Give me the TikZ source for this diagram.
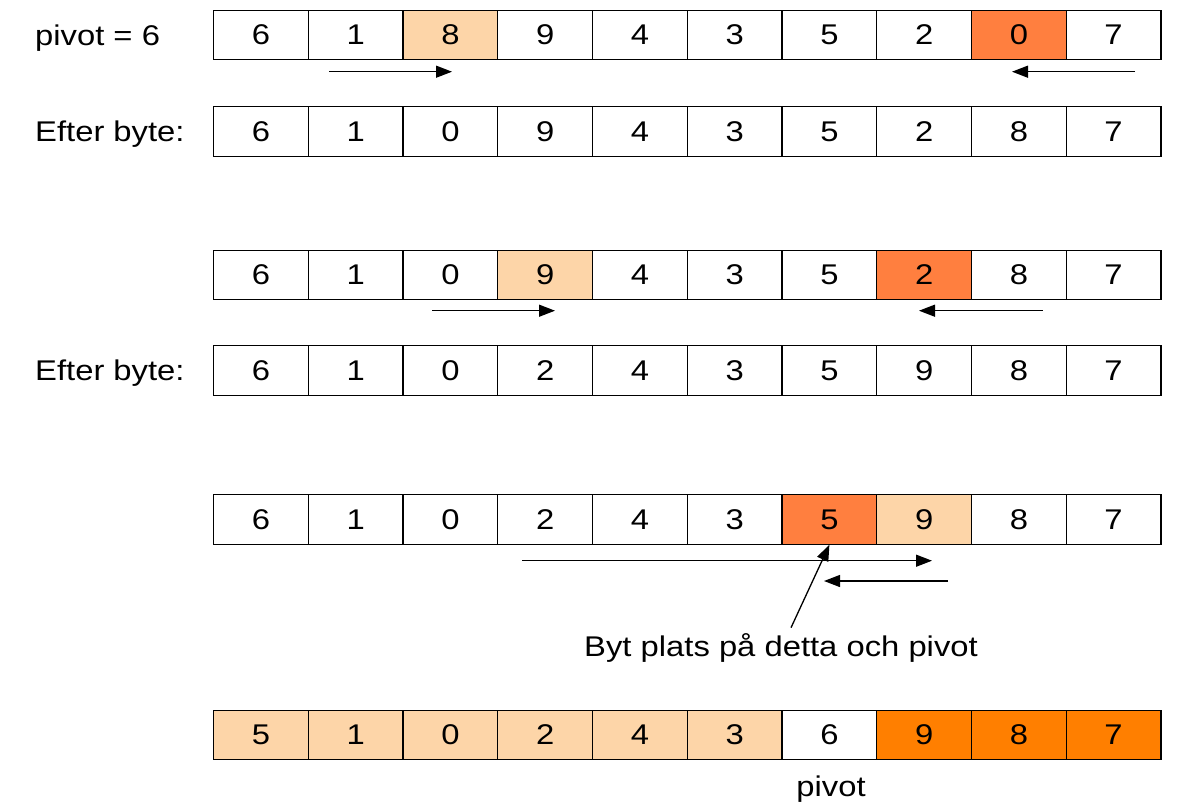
\documentclass[tikz,border=0pt]{standalone}
\usepackage{fontspec}
\setmainfont[FakeStretch=1.15]{Liberation Sans}
\usetikzlibrary{arrows.meta}
\definecolor{peach}{HTML}{FDD5A8}
\definecolor{hot}{HTML}{FF7F3F}
\definecolor{orng}{HTML}{FF7F00}
\tikzset{
  cell/.style={draw=black, line width=1.3pt, rectangle, minimum width=94.73pt,
    minimum height=49.5pt, inner sep=0pt, anchor=north west,
    font=\fontsize{28.5}{34}\selectfont},
  lbl/.style={inner sep=0pt, font=\fontsize{28.5}{34}\selectfont},
  arr/.style={line width=1.3pt, -{Triangle[length=16pt,width=12pt]}}
}
\begin{document}
\begin{tikzpicture}[x=1pt,y=-1pt]
\useasboundingbox (0,0) rectangle (1182,806);
% row 1
\foreach \v/\f [count=\i] in {6/white,1/white,8/peach,9/white,4/white,3/white,5/white,2/white,0/hot,7/white}
  \node[cell, fill=\f] (r1c\i) at ({213+(\i-1)*94.73},9.5) {\v};
% row 2
\foreach \v/\f [count=\i] in {6/white,1/white,0/white,9/white,4/white,3/white,5/white,2/white,8/white,7/white}
  \node[cell, fill=\f] (r2c\i) at ({213+(\i-1)*94.73},106) {\v};
% row 3
\foreach \v/\f [count=\i] in {6/white,1/white,0/white,9/peach,4/white,3/white,5/white,2/hot,8/white,7/white}
  \node[cell, fill=\f] (r3c\i) at ({213+(\i-1)*94.73},249.5) {\v};
% row 4
\foreach \v/\f [count=\i] in {6/white,1/white,0/white,2/white,4/white,3/white,5/white,9/white,8/white,7/white}
  \node[cell, fill=\f] (r4c\i) at ({213+(\i-1)*94.73},345) {\v};
% row 5
\foreach \v/\f [count=\i] in {6/white,1/white,0/white,2/white,4/white,3/white,5/hot,9/peach,8/white,7/white}
  \node[cell, fill=\f] (r5c\i) at ({213+(\i-1)*94.73},494) {\v};
% row 6
\foreach \v/\f [count=\i] in {5/peach,1/peach,0/peach,2/peach,4/peach,3/peach,6/white,9/orng,8/orng,7/orng}
  \node[cell, fill=\f] (r6c\i) at ({213+(\i-1)*94.73},709.5) {\v};

% labels
\node[lbl, anchor=base west] (lpiv) at (35,45) {pivot = 6};
\node[lbl, anchor=base west] (lef1) at (35,141.5) {Efter byte:};
\node[lbl, anchor=base west] (lef2) at (35,380) {Efter byte:};
\node[lbl, anchor=base] (lbyt) at (781,656.5) {Byt plats på detta och pivot};
\node[lbl, anchor=base] (lpv) at (831,796) {pivot};

% arrows row 1
\coordinate (a1s) at (329,71.7);  \coordinate (a1e) at (452,71.7);
\coordinate (b1s) at (1135,71.7); \coordinate (b1e) at (1012,71.7);
\draw[arr] (a1s) -- (a1e);
\draw[arr] (b1s) -- (b1e);
% arrows row 3
\coordinate (a3s) at (432,310.7); \coordinate (a3e) at (555,310.7);
\coordinate (b3s) at (1042.5,310.7); \coordinate (b3e) at (919,310.7);
\draw[arr] (a3s) -- (a3e);
\draw[arr] (b3s) -- (b3e);
% arrows row 5
\coordinate (a5s) at (522,560.7); \coordinate (a5e) at (932,560.7);
\coordinate (b5s) at (948,581);   \coordinate (b5e) at (824,581);
\draw[arr] (a5s) -- (a5e);
\draw[arr] (b5s) -- (b5e);
\coordinate (ls) at (791,627.7);
\draw[arr] (ls) -- (r5c7.south);
\end{tikzpicture}
\end{document}
